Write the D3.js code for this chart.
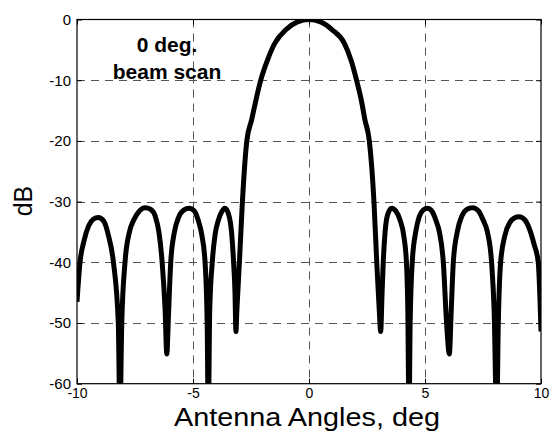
<!DOCTYPE html>
<html>
<head>
<meta charset="utf-8">
<script src="https://cdn.jsdelivr.net/npm/d3@7"></script>
<style>
  html, body { margin: 0; padding: 0; background: #fff; }
  svg { display: block; font-family: "Liberation Sans", Arial, sans-serif; }
</style>
</head>
<body>
<svg id="chart" width="553" height="431"></svg>
<script>
// ---- data ----
const angles = [
  -10, -9.87, -9.7, -9.5, -9.3, -9.08, -8.85, -8.65, -8.43, -8.22, -8.15,
  -8.07, -7.93, -7.74, -7.55, -7.3, -7.07, -6.82, -6.62, -6.47, -6.33, -6.2, -6.13,
  -6.05, -5.96, -5.8, -5.62, -5.4, -5.16, -4.95, -4.78, -4.62, -4.48, -4.39, -4.34,
  -4.28, -4.17, -4.05, -3.9, -3.75, -3.62, -3.45, -3.34, -3.25, -3.19, -3.15,
  -3.11, -3.0, -2.87, -2.68, -2.47, -2.3, -2.08, -1.8, -1.47, -1.0, -0.5, 0,
  0.5, 1.0, 1.52, 1.82, 2.05, 2.25, 2.41, 2.6, 2.8, 2.92, 3.03, 3.09,
  3.15, 3.2, 3.28, 3.38, 3.56, 3.75, 3.92, 4.08, 4.2, 4.26, 4.31,
  4.36, 4.45, 4.6, 4.75, 4.92, 5.11, 5.3, 5.48, 5.62, 5.79, 5.93, 6.05,
  6.13, 6.22, 6.39, 6.6, 6.8, 7.05, 7.3, 7.5, 7.69, 7.87, 7.98, 8.09,
  8.16, 8.26, 8.45, 8.65, 8.85, 9.06, 9.3, 9.5, 9.7, 9.88, 10
];
const levelsDb = [
  -46.5, -40, -36.5, -34, -32.9, -32.6, -33.2, -35.5, -40, -50, -66,
  -50, -40, -35, -33, -31.5, -31.0, -31.3, -32.5, -35, -40, -48, -55.1,
  -48, -40, -35, -32.6, -31.4, -31.1, -31.5, -33, -35.5, -40, -50, -66,
  -48, -40, -35.5, -33, -31.6, -31.1, -32.3, -35, -40, -45, -51.4,
  -48, -40, -30, -20, -16.5, -13.5, -10, -6.8, -3.9, -1.7, -0.4, 0,
  -0.4, -1.7, -3.9, -6.8, -10, -13.2, -16.5, -20, -30, -40, -48, -51.4,
  -45, -40, -35, -32.3, -31.1, -31.6, -33, -35.5, -40, -48, -66,
  -50, -40, -35, -32.5, -31.4, -31.1, -31.6, -33.2, -35, -40, -50, -55.1,
  -48, -40, -35, -32.3, -31.3, -31.0, -31.5, -33, -35, -40, -48, -66,
  -50, -40, -35.5, -33.5, -32.7, -32.5, -33, -34.5, -37, -40, -51.4
];
const xTicks = [-10, -5, 0, 5, 10];
const yTicks = [0, -10, -20, -30, -40, -50, -60];
const xLabel = "Antenna Angles, deg";
const yLabel = "dB";
const noteLines = ["0 deg.", "beam scan"];

// ---- layout ----
const svg = d3.select("#chart");
const L = 77, R = 541, T = 19.5, B = 383.7;
const x = d3.scaleLinear().domain([-10, 10]).range([L, R]);
const y = d3.scaleLinear().domain([-60, 0]).range([B, T]);
const fmt = d => String(d); // plain hyphen-minus like the reference

svg.append("defs").append("clipPath").attr("id", "plotClip")
  .append("rect").attr("x", L).attr("y", T).attr("width", R - L).attr("height", B - T);

// grid
const grid = svg.append("g").attr("stroke", "#555").attr("stroke-width", 1)
  .attr("stroke-dasharray", "8,6").attr("fill", "none");
grid.selectAll("line.gx").data(xTicks.filter(d => d > -10 && d < 10)).join("line")
  .attr("x1", d => Math.round(x(d)) + 0.5).attr("x2", d => Math.round(x(d)) + 0.5)
  .attr("y1", T).attr("y2", B);
grid.selectAll("line.gy").data(yTicks.filter(d => d > -60 && d < 0)).join("line")
  .attr("y1", d => Math.round(y(d)) + 0.5).attr("y2", d => Math.round(y(d)) + 0.5)
  .attr("x1", L).attr("x2", R);

// axes (ticks inside, MATLAB style)
const axB = d3.axisBottom(x).tickValues(xTicks).tickSize(-5).tickFormat(fmt);
const axL = d3.axisLeft(y).tickValues(yTicks).tickSize(-5).tickPadding(6).tickFormat(fmt);
const axT = d3.axisTop(x).tickValues(xTicks).tickSize(-5).tickFormat("");
const axR = d3.axisRight(y).tickValues(yTicks).tickSize(-5).tickFormat("");

function styleAxis(g, size) {
  g.select(".domain").remove();
  g.selectAll(".tick line").attr("stroke", "#000");
  g.selectAll(".tick text").attr("fill", "#000").attr("font-size", size)
    .attr("font-family", "'Liberation Sans', Arial, sans-serif");
}
svg.append("g").attr("transform", `translate(0,${B})`).call(axB).call(styleAxis, 14)
  .selectAll(".tick text").attr("y", 14).attr("dy", 0);
svg.append("g").attr("transform", `translate(${L},0)`).call(axL).call(styleAxis, 15);
svg.append("g").attr("transform", `translate(0,${T})`).call(axT).call(styleAxis, 14);
svg.append("g").attr("transform", `translate(${R},0)`).call(axR).call(styleAxis, 14);

// frame
svg.append("rect").attr("x", L).attr("y", T).attr("width", R - L).attr("height", B - T)
  .attr("fill", "none").attr("stroke", "#000").attr("stroke-width", 1.2);

// curve
const pts = angles.map((a, i) => [a, levelsDb[i]]);
const line = d3.line().x(d => x(d[0])).y(d => y(d[1])).curve(d3.curveMonotoneX);
svg.append("path").datum(pts)
  .attr("clip-path", "url(#plotClip)")
  .attr("d", line)
  .attr("fill", "none").attr("stroke", "#000").attr("stroke-width", 5)
  .attr("stroke-linejoin", "round").attr("stroke-linecap", "butt");

// annotation
const note = svg.append("text").attr("text-anchor", "middle")
  .attr("font-weight", "bold").attr("font-size", 21).attr("fill", "#000");
note.selectAll("tspan").data(noteLines).join("tspan")
  .attr("x", 167).attr("y", (d, i) => 52 + i * 27).text(d => d);

// axis titles
svg.append("text").attr("x", 307).attr("y", 425.5).attr("text-anchor", "middle")
  .attr("font-size", 26).attr("textLength", 266).attr("lengthAdjust", "spacingAndGlyphs")
  .attr("fill", "#000").text(xLabel);
svg.append("text").attr("transform", "translate(32,201) rotate(-90)")
  .attr("text-anchor", "middle").attr("font-size", 25).attr("fill", "#000").text(yLabel);
</script>
</body>
</html>
